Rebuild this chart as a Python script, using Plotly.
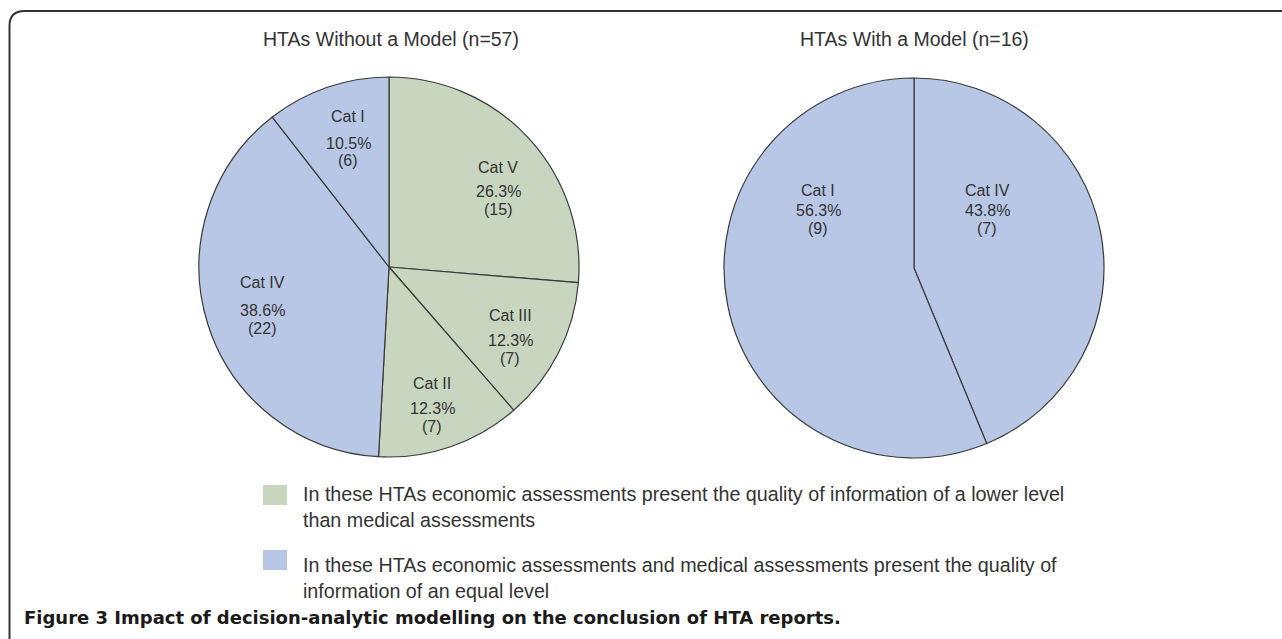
import plotly.graph_objects as go
from decimal import Decimal, ROUND_HALF_UP

W, H = 1282, 639

# ---- data ----
left_title = "HTAs Without a Model (n=57)"
left_cats = ["Cat V", "Cat III", "Cat II", "Cat IV", "Cat I"]
left_counts = [15, 7, 7, 22, 6]
left_groups = ["lower", "lower", "lower", "equal", "equal"]

right_title = "HTAs With a Model (n=16)"
right_cats = ["Cat IV", "Cat I"]
right_counts = [7, 9]
right_groups = ["equal", "equal"]

legend_groups = ["lower", "equal"]
legend_texts = [
    "In these HTAs economic assessments present the quality of information of a lower level<br>than medical assessments",
    "In these HTAs economic assessments and medical assessments present the quality of<br>information of an equal level",
]
caption = "Figure 3 Impact of decision-analytic modelling on the conclusion of HTA reports."

# ---- style ----
colors = {"lower": "#c8d5bf", "equal": "#b8c7e5"}
text_col = "#333333"
FONT = "Liberation Sans, Arial, sans-serif"


def px(x):
    return x / W


def py(y):
    return 1 - y / H


def domain(cx, cy, r):
    return dict(x=[px(cx - r), px(cx + r)], y=[py(cy + r), py(cy - r)])


def pct(n, tot):
    d = (Decimal(n) * 100 / Decimal(tot)).quantize(Decimal("0.1"), rounding=ROUND_HALF_UP)
    return f"{d}%"


fig = go.Figure()
fig.add_trace(go.Pie(
    labels=left_cats, values=left_counts, sort=False, direction="clockwise", rotation=0,
    marker=dict(colors=[colors[g] for g in left_groups], line=dict(color="#3a3a3a", width=1.2)),
    textinfo="none", hoverinfo="label+value+percent", showlegend=False,
    domain=domain(389, 267, 190),
))
fig.add_trace(go.Pie(
    labels=right_cats, values=right_counts, sort=False, direction="clockwise", rotation=0,
    marker=dict(colors=[colors[g] for g in right_groups], line=dict(color="#3a3a3a", width=1.2)),
    textinfo="none", hoverinfo="label+value+percent", showlegend=False,
    domain=domain(914, 268, 190),
))

ann = []
# titles
ann.append(dict(x=px(391), y=py(39), text=left_title, showarrow=False, xref="paper", yref="paper",
                font=dict(size=19.5, color=text_col, family=FONT), xanchor="center", yanchor="middle"))
ann.append(dict(x=px(914), y=py(39), text=right_title, showarrow=False, xref="paper", yref="paper",
                font=dict(size=19.5, color=text_col, family=FONT), xanchor="center", yanchor="middle"))

# slice labels (name, percent, count line centres)
left_pos = {"Cat I": (348, 117, 143, 161), "Cat V": (498, 167, 191, 209),
            "Cat III": (510, 315, 340, 358), "Cat II": (432, 383, 408, 426),
            "Cat IV": (262, 283, 310, 328)}
right_pos = {"Cat I": (818, 190, 210, 228), "Cat IV": (987, 190, 210, 228)}


def add_labels(cats, counts, pos):
    tot = sum(counts)
    for c, n in zip(cats, counts):
        x, y1, y2, y3 = pos[c]
        for t, yy in [(c, y1), (pct(n, tot), y2), (f"({n})", y3)]:
            ann.append(dict(x=px(x), y=py(yy), text=t, showarrow=False, xref="paper", yref="paper",
                            font=dict(size=16, color=text_col, family=FONT),
                            xanchor="center", yanchor="middle"))


add_labels(left_cats, left_counts, left_pos)
add_labels(right_cats, right_counts, right_pos)

shapes = []
# legend
box_y = [495, 560]
txt_top = [481, 552]
for g, t, yy, tt in zip(legend_groups, legend_texts, box_y, txt_top):
    shapes.append(dict(type="rect", xref="paper", yref="paper",
                       x0=px(263), x1=px(287), y0=py(yy + 10), y1=py(yy - 10),
                       fillcolor=colors[g], line=dict(width=0)))
    ann.append(dict(x=px(301), y=py(tt), text=t, showarrow=False, xref="paper", yref="paper",
                    font=dict(size=19.7, color=text_col, family=FONT), xanchor="left", yanchor="top",
                    align="left"))

# caption
ann.append(dict(x=px(22), y=py(617), text=f"<b>{caption}</b>", showarrow=False,
                xref="paper", yref="paper", font=dict(size=18, color="#1a1a1a", family="DejaVu Sans, sans-serif"),
                xanchor="left", yanchor="middle"))

# frame with rounded top-left corner
path = (f"M {px(9.5)} {py(H + 5)} L {px(9.5)} {py(26)} "
        f"Q {px(9.5)} {py(11)} {px(24.5)} {py(11)} L {px(W + 5)} {py(11)}")
shapes.append(dict(type="path", path=path, xref="paper", yref="paper",
                   line=dict(color="#333333", width=2)))

fig.update_layout(
    width=W, height=H, margin=dict(l=0, r=0, t=0, b=0),
    paper_bgcolor="white", plot_bgcolor="white",
    annotations=ann, shapes=shapes, showlegend=False,
)
fig.write_html("out.html", config={"displayModeBar": False},
               post_script="document.body.style.margin='0';document.body.style.overflow='hidden';")
